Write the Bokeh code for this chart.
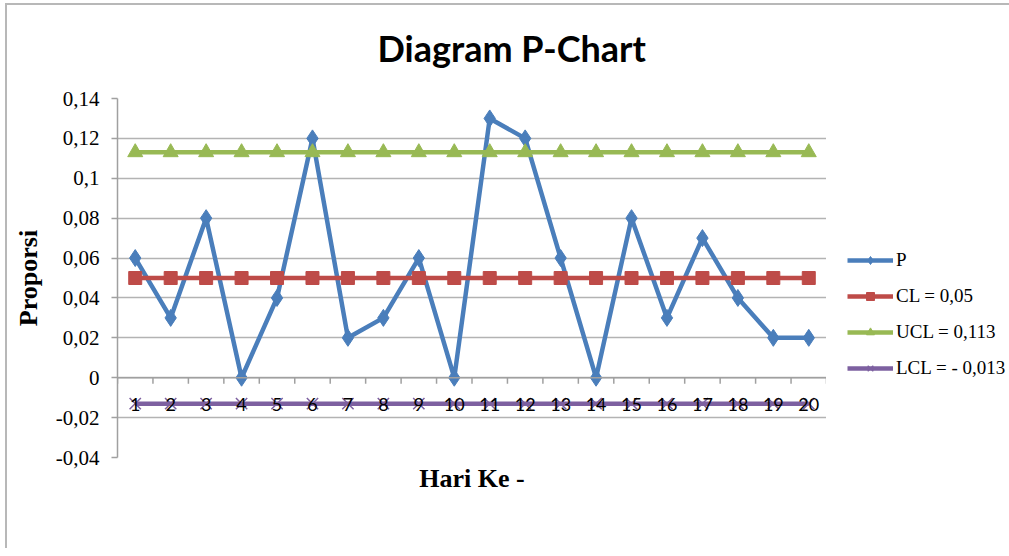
from bokeh.plotting import figure
from bokeh.layouts import row
from bokeh.models import FixedTicker, Legend, LegendItem, Range1d, Span, Title
from bokeh.core.properties import value
from bokeh.embed import file_html
from bokeh.resources import INLINE

# ---- data ----
day_labels = ["1", "2", "3", "4", "5", "6", "7", "8", "9", "10",
              "11", "12", "13", "14", "15", "16", "17", "18", "19", "20"]
p_values = [0.06, 0.03, 0.08, 0.00, 0.04, 0.12, 0.02, 0.03, 0.06, 0.00,
            0.13, 0.12, 0.06, 0.00, 0.08, 0.03, 0.07, 0.04, 0.02, 0.02]
CL = 0.05
UCL = 0.113
LCL = -0.013
y_ticks = [-0.04, -0.02, 0.0, 0.02, 0.04, 0.06, 0.08, 0.10, 0.12, 0.14]
y_tick_labels = ["-0,04", "-0,02", "0", "0,02", "0,04", "0,06", "0,08", "0,1", "0,12", "0,14"]
legend_labels = ["P", "CL = 0,05", "UCL = 0,113", "LCL = - 0,013"]
title_text = "Diagram P-Chart"

n = len(day_labels)
x = list(range(1, n + 1))
cl_values = [CL] * n
ucl_values = [UCL] * n
lcl_values = [LCL] * n

BLUE = "#4A7EBB"
RED = "#BE4B48"
GREEN = "#98B954"
PURPLE = "#7D60A0"
GRID = "#b3b3b3"
AXIS = "#a0a0a0"

Y0, Y1 = -0.04, 0.14
FRAME_H = 359

p = figure(width=819, height=543,
           x_range=Range1d(0.5, n + 0.5), y_range=Range1d(Y0, Y1),
           output_backend="svg", toolbar_location=None,
           min_border_left=110, min_border_right=0,
           min_border_top=93, min_border_bottom=91)
p.outline_line_color = None
p.background_fill_color = "white"
p.border_fill_color = "white"

# title (figure's own title slot)
p.title.text = title_text
p.title.align = "left"
p.title.offset = 260
p.title.text_font = "Lato"
p.title.text_font_style = "bold"
p.title.text_font_size = "36px"
p.title.text_color = "black"
p.title.standoff = 0

# spacer between the frame and the title
p.add_layout(Title(text=" ", text_font_size="2px", standoff=25), "above")

# y axis
p.yaxis.ticker = FixedTicker(ticks=y_ticks)
p.yaxis.major_label_overrides = {t: l for t, l in zip(y_ticks, y_tick_labels)}
p.yaxis.major_label_text_font = "Liberation Serif"
p.yaxis.major_label_text_font_size = "21px"
p.yaxis.major_label_text_color = "black"
p.yaxis.major_tick_out = 6
p.yaxis.major_tick_in = 0
p.yaxis.minor_tick_out = 0
p.yaxis.minor_tick_in = 0
p.yaxis.axis_line_color = AXIS
p.yaxis.axis_line_width = 1.5
p.yaxis.major_tick_line_color = AXIS
p.yaxis.major_tick_line_width = 1.5
p.yaxis.major_label_standoff = 12
p.yaxis.axis_label = "Proporsi"
p.yaxis.axis_label_text_font = "Liberation Serif"
p.yaxis.axis_label_text_font_style = "bold"
p.yaxis.axis_label_text_font_size = "26px"
p.yaxis.axis_label_text_color = "black"
p.yaxis.axis_label_standoff = 10

# x axis (label only; the category axis crosses at y=0 and is drawn below)
p.xaxis.ticker = FixedTicker(ticks=[])
p.xaxis.axis_line_color = None
p.xaxis.major_tick_out = 0
p.xaxis.minor_tick_out = 0
p.xaxis.axis_label = "Hari Ke -"
p.xaxis.axis_label_text_font = "Liberation Serif"
p.xaxis.axis_label_text_font_style = "bold"
p.xaxis.axis_label_text_font_size = "26px"
p.xaxis.axis_label_text_color = "black"
p.xaxis.axis_label_standoff = 6

p.xgrid.visible = False
p.ygrid.ticker = FixedTicker(ticks=y_ticks)
p.ygrid.grid_line_color = GRID
p.ygrid.grid_line_width = 1.5

# category axis at y = 0
p.add_layout(Span(location=0, dimension="width", line_color=AXIS, line_width=1.5))
tick_len = 6 * (Y1 - Y0) / FRAME_H
bounds = [i + 0.5 for i in range(n + 1)]
p.segment(x0=bounds, y0=[0] * len(bounds), x1=bounds, y1=[-tick_len] * len(bounds),
          line_color=AXIS, line_width=1.5)

# series styles
styles = [
    dict(color=BLUE, marker="diamond", size=17),
    dict(color=RED, marker="square", size=13),
    dict(color=GREEN, marker="triangle", size=15),
    dict(color=PURPLE, marker="x", size=16),
]
series = [p_values, cl_values, ucl_values, lcl_values]


def draw(fig, xs, ys, st):
    ln = fig.line(xs, ys, line_color=st["color"], line_width=4.5)
    if st["marker"] == "x":
        mk = fig.scatter(xs, ys, marker="x", size=st["size"], line_color=st["color"], line_width=1.5)
    else:
        mk = fig.scatter(xs, ys, marker=st["marker"], size=st["size"], color=st["color"])
    return ln, mk


for ys, st in zip(series, styles):
    draw(p, x, ys, st)

# category labels
p.text(x=x, y=[0] * n, text=day_labels, y_offset=27,
       text_align="center", text_baseline="middle",
       text_font=value("Lato"), text_font_size="18px", text_color="black")

# legend panel to the right of the chart frame
q = figure(width=183, height=543, x_range=Range1d(0, 1), y_range=Range1d(0, 1),
           output_backend="svg", toolbar_location=None,
           min_border_left=0, min_border_right=0, min_border_top=0, min_border_bottom=0)
q.axis.visible = False
q.grid.visible = False
q.outline_line_color = None
q.border_fill_color = "white"

items = []
for label, st in zip(legend_labels, styles):
    # off-screen sample point so the legend can draw each glyph's style
    ln, mk = draw(q, [2, 3], [2, 2], st)
    items.append(LegendItem(label=label, renderers=[ln, mk]))

legend = Legend(items=items, location=(21, 78))
legend.border_line_color = None
legend.background_fill_alpha = 0
legend.glyph_width = 46
legend.glyph_height = 20
legend.label_height = 20
legend.spacing = 14
legend.padding = 0
legend.margin = 0
legend.label_standoff = 3
legend.label_text_font = "Liberation Serif"
legend.label_text_font_size = "19px"
legend.label_text_color = "black"
q.add_layout(legend, "center")

layout = row(p, q, styles={"border-top": "2px solid #b8b8b8",
                           "border-left": "2px solid #b8b8b8",
                           "margin-left": "5px", "margin-top": "3px"})

open("out.html", "w").write(file_html(layout, INLINE))
